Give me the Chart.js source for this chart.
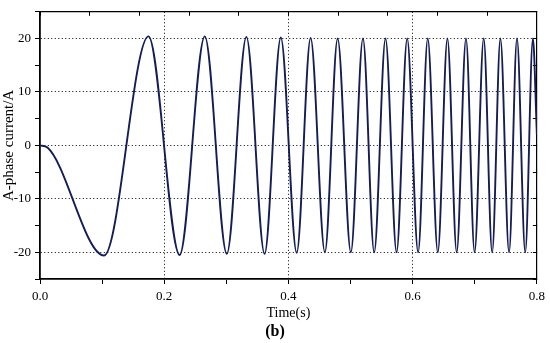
<!DOCTYPE html>
<html>
<head>
<meta charset="utf-8">
<script src="https://cdn.jsdelivr.net/npm/chart.js@4.4.1/dist/chart.umd.min.js"></script>
<style>
    html, body { margin: 0; padding: 0; background: #fff; }
</style>
</head>
<body>
<canvas id="currentChart" width="550" height="343"></canvas>
<script>
// time (s) of the turning points
var time = [0, 0.012,
    0.1032, 0.1747, 0.2248, 0.2653, 0.3008, 0.3323, 0.3616, 0.3877,
    0.4133, 0.4357, 0.4587, 0.4792, 0.5005, 0.5200, 0.5381, 0.5563,
    0.5741, 0.5912, 0.6088, 0.6243, 0.6405, 0.6560, 0.6709, 0.6859,
    0.6997, 0.7144, 0.7280, 0.7413, 0.7552, 0.7680, 0.7813, 0.7936, 0.8000];

// A-phase current (A) at those times
var current = [0, -0.4,
    -20.6, 20.4, -20.5, 20.4, -20.3, 20.3, -20.3, 20.2,
    -20.1, 20.1, -20, 20, -20, 20, -20, 20,
    -20, 20, -20, 20, -20, 20, -20, 20,
    -20, 20, -20, 20, -20, 20, -20, 20, 2];

var xLabels = ['0.0', '0.2', '0.4', '0.6', '0.8'];
var yLabels = [-20, -10, 0, 10, 20];

var points = [];
for (var i = 0; i < time.length; i++) {
    points.push({ x: time[i], y: current[i] });
}

var serif = '"Liberation Serif", "Times New Roman", serif';
var clear = 'rgba(0,0,0,0)';

new Chart(document.getElementById('currentChart'), {
    type: 'line',
    data: {
        datasets: [{
            label: 'A-phase current',
            data: points,
            xAxisID: 'x',
            yAxisID: 'y',
            borderColor: '#141d55',
            borderWidth: 1.9,
            pointRadius: 0,
            fill: false,
            cubicInterpolationMode: 'monotone'
        }]
    },
    options: {
        responsive: false,
        animation: false,
        layout: { padding: 0 },
        plugins: {
            legend: { display: false },
            tooltip: { enabled: false },
            title: {
                display: true,
                position: 'bottom',
                text: '(b)',
                color: '#000',
                font: { family: serif, size: 16, weight: 'bold' },
                padding: { top: 0, bottom: 2 }
            }
        },
        scales: {
            x: {
                type: 'linear',
                position: 'bottom',
                min: 0,
                max: 0.8,
                afterFit: function (scale) { scale.height = 42.8; },
                ticks: {
                    stepSize: 0.1,
                    autoSkip: false,
                    maxRotation: 0,
                    padding: 5,
                    color: '#000',
                    font: { family: serif, size: 13 },
                    callback: function (v) {
                        var k = Math.round(v * 10);
                        return k % 2 === 0 ? xLabels[k / 2] : '';
                    }
                },
                grid: {
                    color: function (ctx) {
                        var k = Math.round(ctx.tick.value * 10);
                        return (k % 2 === 0 && k > 0 && k < 8) ? '#000' : clear;
                    },
                    tickColor: '#000',
                    tickLength: 5,
                    lineWidth: 1
                },
                border: { display: true, color: '#000', width: 1.8, dash: [1, 2.5] },
                title: {
                    display: true,
                    text: 'Time(s)',
                    color: '#000',
                    font: { family: serif, size: 14 },
                    padding: 0
                }
            },
            x2: {
                type: 'linear',
                position: 'top',
                min: 0,
                max: 0.8,
                afterFit: function (scale) { scale.height = 4; },
                ticks: { display: false, stepSize: 0.08 },
                grid: { drawOnChartArea: false, tickLength: -4, tickColor: '#000' },
                border: { display: true, color: '#000', width: 1.2 }
            },
            y: {
                type: 'linear',
                position: 'left',
                min: -25,
                max: 25,
                afterFit: function (scale) { scale.width = 40; },
                ticks: {
                    stepSize: 5,
                    padding: 4,
                    color: '#000',
                    font: { family: serif, size: 13 },
                    callback: function (v) {
                        return yLabels.indexOf(v) >= 0 ? String(v) : '';
                    }
                },
                grid: {
                    color: function (ctx) {
                        return yLabels.indexOf(ctx.tick.value) >= 0 ? '#000' : clear;
                    },
                    tickColor: '#000',
                    tickLength: 5,
                    lineWidth: 1
                },
                border: { display: true, color: '#000', width: 1.8, dash: [1, 2.5] },
                title: {
                    display: true,
                    text: 'A-phase current/A',
                    color: '#000',
                    font: { family: serif, size: 15 },
                    padding: 0
                }
            },
            y2: {
                type: 'linear',
                position: 'right',
                min: -25,
                max: 25,
                afterFit: function (scale) { scale.width = 10; },
                ticks: { display: false, stepSize: 5 },
                grid: { drawOnChartArea: false, tickLength: -4, tickColor: '#000' },
                border: { display: true, color: '#000', width: 1.2 }
            }
        }
    }
});
</script>
</body>
</html>
